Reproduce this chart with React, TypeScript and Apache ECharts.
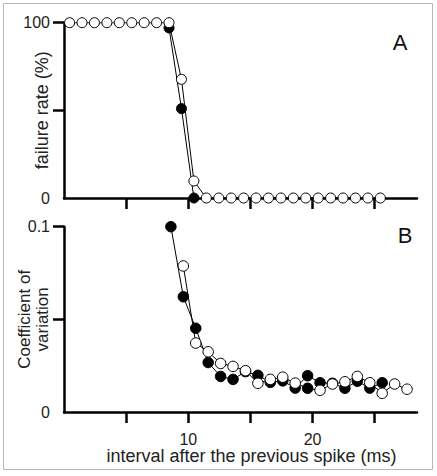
import React, { useEffect, useRef } from "react";
import * as echarts from "echarts";

// Panel A: failure rate (%)
const topOpenX = [0.45, 1.45, 2.45, 3.45, 4.45, 5.45, 6.45, 7.45, 8.45, 9.45, 10.45, 11.45, 12.45, 13.45, 14.45, 15.45, 16.45, 17.45, 18.45, 19.45, 20.45, 21.45, 22.45, 23.45, 24.45, 25.45];
const topOpenY = [100, 100, 100, 100, 100, 100, 100, 100, 100, 67.7, 9.7, 0, 0, 0, 0, 0, 0, 0, 0, 0, 0, 0, 0, 0, 0, 0];
const topFilledX = [8.45, 9.45, 10.45];
const topFilledY = [97, 51, 0];

// Panel B: coefficient of variation
const botFilledX = [8.6, 9.6, 10.6, 11.6, 12.6, 13.6, 14.6, 15.6, 16.6, 17.6, 18.6, 19.6, 20.6, 21.6, 22.6, 23.6, 24.6, 25.6];
const botFilledY = [0.1, 0.0622, 0.0452, 0.0267, 0.0192, 0.0176, 0.0218, 0.0198, 0.016, 0.0168, 0.0129, 0.0196, 0.0158, 0.0155, 0.0128, 0.0166, 0.0129, 0.0158];
const botOpenX = [9.6, 10.6, 11.6, 12.6, 13.6, 14.6, 15.6, 16.6, 17.6, 18.6, 19.6, 20.6, 21.6, 22.6, 23.6, 24.6, 25.6, 26.6, 27.6];
const botOpenY = [0.0788, 0.0372, 0.0325, 0.0262, 0.0246, 0.0223, 0.0155, 0.0176, 0.0188, 0.0156, 0.0128, 0.0117, 0.0151, 0.0163, 0.0192, 0.0158, 0.0101, 0.0151, 0.0123];
const botOpenDarkX = [19.6]; // point drawn as filled in the figure

const xTicks = [5, 10, 15, 20, 25];
const xLabels = [10, 20];
const topYTicks = [50, 100];
const topYLabels = [0, 100];
const botYTicks = [0.05, 0.1];
const botYLabels = [0, 0.1];

const FONT = "'Liberation Sans', Arial, sans-serif";

export default function App() {
  const ref = useRef<HTMLDivElement>(null);
  useEffect(() => {
    document.body.style.margin = "0";
    const chart = echarts.init(ref.current!, null, { renderer: "svg" });
    const axisLine = { show: true, lineStyle: { color: "#000", width: 2.5 } };
    const labelStyle = { color: "#222", fontSize: 16, fontFamily: FONT };
    const xAxisBase = (gridIndex: number) => ({
      type: "value",
      gridIndex,
      min: 0,
      max: 28.4,
      interval: 5,
      axisLine,
      splitLine: { show: false },
      axisTick: { show: true, customValues: xTicks, length: 11, lineStyle: { color: "#000", width: 2.5 } },
    });
    const pair = (xs: number[], ys: number[]) => xs.map((x, i) => [x, ys[i]]);
    const openStyle = { color: "#fff", borderColor: "#000", borderWidth: 1 };
    const filledStyle = { color: "#000", borderColor: "#000", borderWidth: 1 };
    chart.setOption({
      animation: false,
      textStyle: { fontFamily: FONT },
      grid: [
        { left: 64, top: 22.7, width: 353, height: 175.3, outerBoundsMode: "none", containLabel: false },
        { left: 64, top: 226.7, width: 353, height: 185.3, outerBoundsMode: "none", containLabel: false },
      ],
      xAxis: [
        { ...xAxisBase(0), axisLabel: { show: false } },
        {
          ...xAxisBase(1),
          axisLabel: { ...labelStyle, customValues: xLabels, margin: 19 },
          name: "interval after the previous spike (ms)",
          nameLocation: "middle",
          nameMoveOverlap: false,
          nameGap: 35,
          nameTextStyle: { color: "#222", fontSize: 18, fontFamily: FONT, padding: [0, 0, 0, 22] },
        },
      ],
      yAxis: [
        {
          type: "value",
          gridIndex: 0,
          min: 0,
          max: 100,
          interval: 50,
          axisLine,
          splitLine: { show: false },
          axisTick: { show: true, customValues: topYTicks, length: 11, lineStyle: { color: "#000", width: 2.5 } },
          axisLabel: { ...labelStyle, customValues: topYLabels, margin: 14 },
          name: "failure rate (%)",
          nameLocation: "middle",
          nameMoveOverlap: false,
          nameGap: 13,
          nameTextStyle: { color: "#222", fontSize: 18, fontFamily: FONT, lineHeight: 18 },
        },
        {
          type: "value",
          gridIndex: 1,
          min: 0,
          max: 0.1,
          interval: 0.05,
          axisLine,
          splitLine: { show: false },
          axisTick: { show: true, customValues: botYTicks, length: 11, lineStyle: { color: "#000", width: 2.5 } },
          axisLabel: { ...labelStyle, customValues: botYLabels, margin: 14 },
          name: "Coefficient of\nvariation",
          nameLocation: "middle",
          nameMoveOverlap: false,
          nameGap: 13,
          nameTextStyle: { color: "#222", fontSize: 17, fontFamily: FONT, lineHeight: 18 },
        },
      ],
      series: [
        {
          type: "line",
          xAxisIndex: 0,
          yAxisIndex: 0,
          data: pair(topFilledX, topFilledY),
          symbol: "circle",
          symbolSize: 10,
          itemStyle: filledStyle,
          lineStyle: { color: "#000", width: 1 },
          z: 2,
        },
        {
          type: "line",
          xAxisIndex: 0,
          yAxisIndex: 0,
          data: pair(topOpenX, topOpenY),
          symbol: "circle",
          symbolSize: 10,
          itemStyle: openStyle,
          lineStyle: { color: "#000", width: 1 },
          z: 3,
        },
        {
          type: "line",
          xAxisIndex: 1,
          yAxisIndex: 1,
          data: pair(botFilledX, botFilledY),
          symbol: "circle",
          symbolSize: 10.5,
          itemStyle: filledStyle,
          lineStyle: { color: "#000", width: 1 },
          z: 2,
        },
        {
          type: "line",
          xAxisIndex: 1,
          yAxisIndex: 1,
          data: botOpenX.map((x, i) =>
            botOpenDarkX.includes(x)
              ? { value: [x, botOpenY[i]], itemStyle: filledStyle }
              : { value: [x, botOpenY[i]] }
          ),
          symbol: "circle",
          symbolSize: 10.5,
          itemStyle: openStyle,
          lineStyle: { color: "#000", width: 1 },
          z: 3,
        },
      ],
      graphic: [
        {
          type: "rect",
          shape: { x: 3.5, y: 3.5, width: 429, height: 466 },
          style: { fill: "none", stroke: "#b8b8b8", lineWidth: 1 },
          silent: true,
        },
        {
          type: "text",
          x: 400,
          y: 42,
          style: { text: "A", font: `22px ${FONT}`, fill: "#111", textAlign: "center", textVerticalAlign: "middle" },
        },
        {
          type: "text",
          x: 405,
          y: 235,
          style: { text: "B", font: `22px ${FONT}`, fill: "#111", textAlign: "center", textVerticalAlign: "middle" },
        },
      ],
    });
    return () => chart.dispose();
  }, []);
  return <div ref={ref} style={{ width: 437, height: 476 }} />;
}
